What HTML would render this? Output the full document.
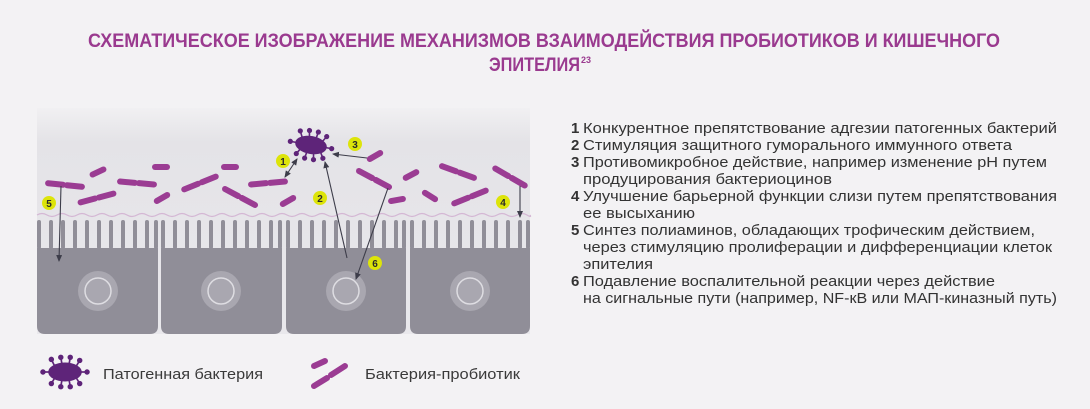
<!DOCTYPE html>
<html><head><meta charset="utf-8"><style>
html,body{margin:0;padding:0;background:#f3f2f4;}
svg{display:block;font-family:"Liberation Sans",sans-serif;}
</style></head><body>
<svg width="1090" height="409" viewBox="0 0 1090 409" xmlns="http://www.w3.org/2000/svg">
<defs>
<linearGradient id="lum" x1="0" y1="0" x2="0" y2="1">
<stop offset="0" stop-color="#f1f0f2"/><stop offset="0.15" stop-color="#e4e3e7"/><stop offset="1" stop-color="#e9e8ec"/>
</linearGradient>
<marker id="ar" markerWidth="8" markerHeight="8" refX="6" refY="3" orient="auto" markerUnits="userSpaceOnUse"><path d="M0,0 L7,3 L0,6 z" fill="#3d3d4a"/></marker>
<marker id="ars" markerWidth="8" markerHeight="8" refX="1" refY="3" orient="auto" markerUnits="userSpaceOnUse"><path d="M7,0 L0,3 L7,6 z" fill="#3d3d4a"/></marker>
<g id="rod"><line x1="-17" y1="0" x2="-2" y2="0" stroke="#9b3c93" stroke-width="6" stroke-linecap="round"/><line x1="2" y1="0" x2="17" y2="0" stroke="#9b3c93" stroke-width="6" stroke-linecap="round"/></g>
<g id="rod1"><line x1="-6" y1="0" x2="6" y2="0" stroke="#9b3c93" stroke-width="6" stroke-linecap="round"/></g>
<g id="path">
<g stroke="#5e2479" stroke-width="1.6" fill="#5e2479">
<line x1="-10" y1="-6" x2="-13" y2="-12"/><line x1="-3" y1="-8" x2="-4" y2="-14"/><line x1="4" y1="-8" x2="5" y2="-14"/><line x1="11" y1="-6" x2="14" y2="-11"/>
<line x1="-10" y1="6" x2="-13" y2="11"/><line x1="-3" y1="8" x2="-4" y2="14"/><line x1="4" y1="8" x2="5" y2="14"/><line x1="11" y1="6" x2="14" y2="11"/>
<line x1="-15" y1="0" x2="-21" y2="0"/><line x1="15" y1="0" x2="21" y2="0"/>
<circle cx="-13" cy="-12" r="1.8"/><circle cx="-4" cy="-14" r="1.8"/><circle cx="5" cy="-14" r="1.8"/><circle cx="14" cy="-11" r="1.8"/>
<circle cx="-13" cy="11" r="1.8"/><circle cx="-4" cy="14" r="1.8"/><circle cx="5" cy="14" r="1.8"/><circle cx="14" cy="11" r="1.8"/>
<circle cx="-21" cy="0" r="1.8"/><circle cx="21" cy="0" r="1.8"/>
</g>
<ellipse cx="0" cy="0" rx="16" ry="9" fill="#5e2479"/>
</g>
</defs>

<text x="88" y="47" font-size="19" font-weight="bold" fill="#9a3a8f" textLength="912" lengthAdjust="spacingAndGlyphs">СХЕМАТИЧЕСКОЕ ИЗОБРАЖЕНИЕ МЕХАНИЗМОВ ВЗАИМОДЕЙСТВИЯ ПРОБИОТИКОВ И КИШЕЧНОГО</text>
<text x="489" y="71" font-size="19" font-weight="bold" fill="#9a3a8f" textLength="91" lengthAdjust="spacingAndGlyphs">ЭПИТЕЛИЯ</text>
<text x="581" y="63" font-size="9" font-weight="bold" fill="#9a3a8f">23</text>

<rect x="37" y="108" width="493" height="226" fill="url(#lum)"/>
<path d="M37,215 q5,-3 10,0 t10,0 t10,0 t10,0 t10,0 t10,0 t10,0 t10,0 t10,0 t10,0 t10,0 t10,0 t10,0 t10,0 t10,0 t10,0 t10,0 t10,0 t10,0 t10,0 t10,0 t10,0 t10,0 t10,0 t10,0 t10,0 t10,0 t10,0 t10,0 t10,0 t10,0 t10,0 t10,0 t10,0 t10,0 t10,0 t10,0 t10,0 t10,0 t10,0 t10,0 t10,0 t10,0 t10,0 t10,0 t10,0 t10,0 t10,0 t10,0 t3,0" fill="none" stroke="#d4b7d4" stroke-width="1.2"/>

<g fill="#908e98">
<path d="M37,248 H158 V326 q0,8 -8,8 H45 q-8,0 -8,-8 z"/>
<path d="M161,248 H282 V326 q0,8 -8,8 H169 q-8,0 -8,-8 z"/>
<path d="M286,248 H406 V326 q0,8 -8,8 H294 q-8,0 -8,-8 z"/>
<path d="M410,248 H530 V326 q0,8 -8,8 H418 q-8,0 -8,-8 z"/>
</g>
<g fill="#908e98">
<rect x="37" y="220" width="4" height="29" rx="2"/><rect x="49" y="220" width="4" height="29" rx="2"/><rect x="61" y="220" width="4" height="29" rx="2"/><rect x="73" y="220" width="4" height="29" rx="2"/><rect x="85" y="220" width="4" height="29" rx="2"/><rect x="97" y="220" width="4" height="29" rx="2"/><rect x="109" y="220" width="4" height="29" rx="2"/><rect x="121" y="220" width="4" height="29" rx="2"/><rect x="133" y="220" width="4" height="29" rx="2"/><rect x="145" y="220" width="4" height="29" rx="2"/><rect x="154" y="220" width="4" height="29" rx="2"/>
<rect x="161" y="220" width="4" height="29" rx="2"/><rect x="173" y="220" width="4" height="29" rx="2"/><rect x="185" y="220" width="4" height="29" rx="2"/><rect x="197" y="220" width="4" height="29" rx="2"/><rect x="209" y="220" width="4" height="29" rx="2"/><rect x="221" y="220" width="4" height="29" rx="2"/><rect x="233" y="220" width="4" height="29" rx="2"/><rect x="245" y="220" width="4" height="29" rx="2"/><rect x="257" y="220" width="4" height="29" rx="2"/><rect x="269" y="220" width="4" height="29" rx="2"/><rect x="278" y="220" width="4" height="29" rx="2"/>
<rect x="286" y="220" width="4" height="29" rx="2"/><rect x="298" y="220" width="4" height="29" rx="2"/><rect x="310" y="220" width="4" height="29" rx="2"/><rect x="322" y="220" width="4" height="29" rx="2"/><rect x="334" y="220" width="4" height="29" rx="2"/><rect x="346" y="220" width="4" height="29" rx="2"/><rect x="358" y="220" width="4" height="29" rx="2"/><rect x="370" y="220" width="4" height="29" rx="2"/><rect x="382" y="220" width="4" height="29" rx="2"/><rect x="394" y="220" width="4" height="29" rx="2"/><rect x="402" y="220" width="4" height="29" rx="2"/>
<rect x="410" y="220" width="4" height="29" rx="2"/><rect x="422" y="220" width="4" height="29" rx="2"/><rect x="434" y="220" width="4" height="29" rx="2"/><rect x="446" y="220" width="4" height="29" rx="2"/><rect x="458" y="220" width="4" height="29" rx="2"/><rect x="470" y="220" width="4" height="29" rx="2"/><rect x="482" y="220" width="4" height="29" rx="2"/><rect x="494" y="220" width="4" height="29" rx="2"/><rect x="506" y="220" width="4" height="29" rx="2"/><rect x="518" y="220" width="4" height="29" rx="2"/><rect x="526" y="220" width="4" height="29" rx="2"/>
</g>
<g fill="#a9a7b0">
<circle cx="98" cy="291" r="20"/><circle cx="221" cy="291" r="20"/><circle cx="346" cy="291" r="20"/><circle cx="470" cy="291" r="20"/>
</g>
<g fill="none" stroke="#dedde2" stroke-width="1.5">
<circle cx="98" cy="291" r="13"/><circle cx="221" cy="291" r="13"/><circle cx="346" cy="291" r="13"/><circle cx="470" cy="291" r="13"/>
</g>

<use href="#rod" transform="translate(65,185) rotate(6)"/>
<use href="#rod1" transform="translate(98,172) rotate(-25)"/>
<use href="#rod" transform="translate(137,183) rotate(5)"/>
<use href="#rod1" transform="translate(161,167)"/>
<use href="#rod" transform="translate(97,198) rotate(-15)"/>
<use href="#rod1" transform="translate(162,198) rotate(-30)"/>
<use href="#rod" transform="translate(200,183) rotate(-22)"/>
<use href="#rod1" transform="translate(230,167)"/>
<use href="#rod" transform="translate(240,197) rotate(28)"/>
<use href="#rod" transform="translate(268,183) rotate(-5)"/>
<use href="#rod1" transform="translate(288,201) rotate(-30)"/>
<use href="#rod1" transform="translate(375,156) rotate(-30)"/>
<use href="#rod" transform="translate(374,179) rotate(28)"/>
<use href="#rod1" transform="translate(411,175) rotate(-28)"/>
<use href="#rod1" transform="translate(397,200) rotate(-10)"/>
<use href="#rod1" transform="translate(430,196) rotate(32)"/>
<use href="#rod" transform="translate(458,172) rotate(20)"/>
<use href="#rod" transform="translate(470,197) rotate(-22)"/>
<use href="#rod" transform="translate(510,177) rotate(30)"/>

<use href="#path" transform="translate(311,145) rotate(10)"/>

<g stroke="#3d3d4a" stroke-width="1.1" fill="none">
<line x1="285" y1="177" x2="297" y2="159" marker-end="url(#ar)" marker-start="url(#ars)"/>
<line x1="367" y1="158" x2="333" y2="154" marker-end="url(#ar)"/>
<line x1="347" y1="258" x2="325" y2="162" marker-end="url(#ar)"/>
<line x1="388" y1="188" x2="356" y2="279" marker-end="url(#ar)"/>
<line x1="520" y1="186" x2="520" y2="217" marker-end="url(#ar)"/>
<line x1="61" y1="186" x2="59" y2="261" marker-end="url(#ar)"/>
</g>

<g font-size="10" font-weight="bold" fill="#2a2a2a" text-anchor="middle">
<circle cx="283" cy="161" r="7" fill="#dde40a"/><text x="283" y="165">1</text>
<circle cx="320" cy="198" r="7" fill="#dde40a"/><text x="320" y="202">2</text>
<circle cx="355" cy="144" r="7" fill="#dde40a"/><text x="355" y="148">3</text>
<circle cx="503" cy="202" r="7" fill="#dde40a"/><text x="503" y="206">4</text>
<circle cx="49" cy="203" r="7" fill="#dde40a"/><text x="49" y="207">5</text>
<circle cx="375" cy="263" r="7" fill="#dde40a"/><text x="375" y="267">6</text>
</g>

<use href="#path" transform="translate(65,372) scale(1.05)"/>
<text x="103" y="379" font-size="15" fill="#3a3a3a" textLength="160" lengthAdjust="spacingAndGlyphs">Патогенная бактерия</text>
<line x1="314" y1="366" x2="325" y2="361" stroke="#9b3c93" stroke-width="6" stroke-linecap="round"/>
<line x1="314" y1="386" x2="327" y2="378" stroke="#9b3c93" stroke-width="6" stroke-linecap="round"/>
<line x1="331" y1="375" x2="345" y2="366" stroke="#9b3c93" stroke-width="6" stroke-linecap="round"/>
<text x="365" y="379" font-size="15" fill="#3a3a3a" textLength="155" lengthAdjust="spacingAndGlyphs">Бактерия-пробиотик</text>

<g font-size="15" fill="#333" font-weight="bold">
<text x="571" y="133">1</text><text x="571" y="150">2</text><text x="571" y="167">3</text><text x="571" y="201">4</text><text x="571" y="235">5</text><text x="571" y="286">6</text>
</g>
<g font-size="15" fill="#333" lengthAdjust="spacingAndGlyphs">
<text x="583" y="133" textLength="474" lengthAdjust="spacingAndGlyphs">Конкурентное препятствование адгезии патогенных бактерий</text>
<text x="583" y="150" textLength="429" lengthAdjust="spacingAndGlyphs">Стимуляция защитного гуморального иммунного ответа</text>
<text x="583" y="167" textLength="464" lengthAdjust="spacingAndGlyphs">Противомикробное действие, например изменение pH путем</text>
<text x="583" y="184" textLength="249" lengthAdjust="spacingAndGlyphs">продуцирования бактериоцинов</text>
<text x="583" y="201" textLength="474" lengthAdjust="spacingAndGlyphs">Улучшение барьерной функции слизи путем препятствования</text>
<text x="583" y="218" textLength="112" lengthAdjust="spacingAndGlyphs">ее высыханию</text>
<text x="583" y="235" textLength="452" lengthAdjust="spacingAndGlyphs">Синтез полиаминов, обладающих трофическим действием,</text>
<text x="583" y="252" textLength="469" lengthAdjust="spacingAndGlyphs">через стимуляцию пролиферации и дифференциации клеток</text>
<text x="583" y="269" textLength="70" lengthAdjust="spacingAndGlyphs">эпителия</text>
<text x="583" y="286" textLength="412" lengthAdjust="spacingAndGlyphs">Подавление воспалительной реакции через действие</text>
<text x="583" y="303" textLength="474" lengthAdjust="spacingAndGlyphs">на сигнальные пути (например, NF-кB или МАП-киназный путь)</text>
</g>
</svg>
</body></html>
